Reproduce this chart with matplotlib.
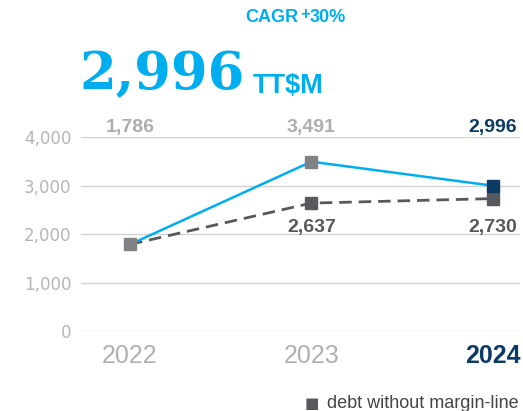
import matplotlib.pyplot as plt

years = ['2022', '2023', '2024']
debt = [1786, 3491, 2996]
debt_no_margin = [1786, 2637, 2730]
yticks = [0, 1000, 2000, 3000, 4000]

BLUE = '#00AEEF'
NAVY = '#0C3A64'
GREY = '#808285'
DARK = '#58595C'
LIGHT = '#ADADAD'


def main():
    fig = plt.figure(figsize=(5.23, 4.11), dpi=100)
    ax = fig.add_axes([0.155, 1 - 331 / 411, 0.839, (331 - 137) / 411])
    x = list(range(len(years)))

    ax.set_ylim(0, 4000)
    ax.set_xlim(-0.27, 2.15)
    ax.set_yticks(yticks)
    ax.set_yticklabels([f'{v:,}' for v in yticks], family='DejaVu Sans',
                       fontsize=12, color='#B5B5B5')
    ax.tick_params(axis='y', length=0, pad=7)
    ax.set_xticks([])
    for s in ax.spines.values():
        s.set_visible(False)
    for v in yticks:
        ax.axhline(v, color='#D2D2D2', lw=1.0, zorder=0)

    # dashed series
    ax.plot(x, debt_no_margin, color=DARK, lw=2, ls=(0, (4.5, 2.5)), zorder=2)
    ax.plot(x[1:], debt_no_margin[1:], ls='none', marker='s', ms=8,
            color=DARK, zorder=3)
    # solid series
    ax.plot(x, debt, color=BLUE, lw=1.8, zorder=4)
    mcolors = [GREY, GREY, NAVY]
    for i in x:
        ax.plot(x[i], debt[i], ls='none', marker='s', ms=8,
                color=mcolors[i], zorder=5)

    # value labels
    tcolors = [LIGHT, LIGHT, NAVY]
    for i in x:
        ax.text(x[i], 4200, f'{debt[i]:,}', ha='center', va='center',
                family='Liberation Sans', fontsize=14, fontweight='bold',
                color=tcolors[i], clip_on=False)
    for i in x[1:]:
        ax.text(x[i], 2140, f'{debt_no_margin[i]:,}', ha='center',
                va='center', family='Liberation Sans', fontsize=14,
                fontweight='bold', color=DARK)

    # year labels
    for i in x:
        bold = i == 2
        ax.text(x[i], -520, years[i], ha='center', va='center',
                family='Liberation Sans', fontsize=18,
                fontweight='bold' if bold else 'normal',
                color=NAVY if bold else '#B0B0B0', clip_on=False)

    # header
    fig.text(245 / 523, 1 - 18 / 411, 'CAGR', ha='left', va='center',
             family='Liberation Sans', fontsize=13, fontweight='bold',
             color=BLUE)
    fig.text(300 / 523, 1 - 14 / 411, '+', ha='left', va='center',
             family='Liberation Sans', fontsize=12, fontweight='bold',
             color=BLUE)
    fig.text(310 / 523, 1 - 18 / 411, '30%', ha='left', va='center',
             family='Liberation Sans', fontsize=13, fontweight='bold',
             color=BLUE)
    fig.text(79 / 523, 1 - 89 / 411, '2,996', ha='left', va='baseline',
             family='DejaVu Serif', fontsize=38, fontweight='bold',
             color=BLUE)
    fig.text(253 / 523, 1 - 93 / 411, 'TT$M', ha='left', va='baseline',
             family='Liberation Sans', fontsize=19.5, fontweight='bold',
             color=BLUE)

    # legend
    fig.text(305 / 523, 1 - 403 / 411, '■', ha='left', va='center',
             family='DejaVu Sans', fontsize=11, color=DARK)
    fig.text(327 / 523, 1 - 403 / 411, 'debt without margin-line',
             ha='left', va='center', family='Liberation Sans',
             fontsize=13, color='#444548')

    fig.savefig('out.png', dpi=100)


if __name__ == "__main__":
    main()
